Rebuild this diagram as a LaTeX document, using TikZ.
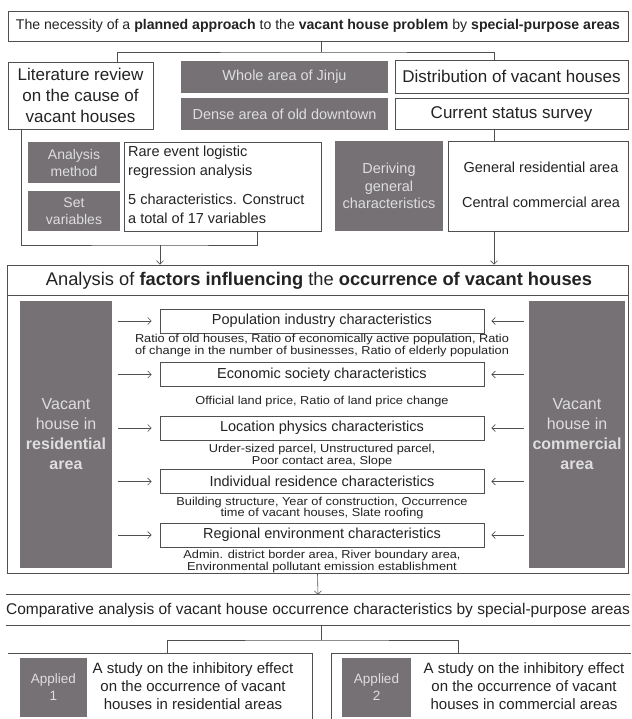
\documentclass[tikz,border=0pt]{standalone}
\usepackage{fontspec}
\setmainfont{Liberation Sans}
\newfontfamily\descfam{Liberation Sans}[FakeStretch=1.11]
\usetikzlibrary{positioning,arrows.meta}
\definecolor{boxgray}{RGB}{118,113,117}
\definecolor{boxtext}{RGB}{222,222,222}
\definecolor{linegray}{RGB}{80,80,80}
\definecolor{txtcolor}{RGB}{35,35,35}
\newcommand{\descfont}{\descfam\fontsize{11.5}{10.5}\selectfont}

\begin{document}
\begin{tikzpicture}[x=1pt,y=-1pt,
box/.style={draw=linegray,line width=0.8pt,fill=white,inner sep=0pt,align=center,text=txtcolor},
gbox/.style={fill=boxgray,inner sep=0pt,align=center,text=boxtext},
lbl/.style={inner sep=0pt,align=center,text=txtcolor},
ln/.style={draw=linegray,line width=0.8pt},
arr/.style={-{Straight Barb[length=3.5pt,width=7pt]},draw=linegray,line width=0.6pt}]
\useasboundingbox (0,0) rectangle (631,719);
\node[box,minimum width=620pt,minimum height=30pt,font=\fontsize{14.1}{16}\selectfont] (nec) at (318,26) {The necessity of a \textbf{planned approach} to the \textbf{vacant house problem} by \textbf{special-purpose areas}};
\node[box,minimum width=145pt,minimum height=67pt,font=\fontsize{17}{21}\selectfont] (lit) at (80.5,95.5) {Literature review\\on the cause of\\vacant houses};
\node[gbox,minimum width=207pt,minimum height=32pt,font=\fontsize{14.5}{17}\selectfont] (whole) at (284.5,77) {Whole area of Jinju};
\node[gbox,minimum width=207pt,minimum height=32pt,font=\fontsize{14.5}{17}\selectfont,below=5pt of whole] (dense) {Dense area of old downtown};
\node[box,minimum width=233pt,minimum height=33pt,font=\fontsize{17}{20}\selectfont] (dist) at (511.5,76.5) {Distribution of vacant houses};
\node[box,minimum width=233pt,minimum height=31pt,font=\fontsize{17}{20}\selectfont,below=5pt of dist] (surv) {Current status survey};
\coordinate (tj) at (321,52);
\coordinate (lx) at (117,0);
\coordinate (rx) at (494,0);
\draw[ln] (nec.south -| tj) -- (tj);
\draw[ln] (lit.north -| lx) |- (tj) -| (dist.north -| rx);
% method and variables
\node[gbox,minimum width=92pt,minimum height=41pt,font=\fontsize{14}{17}\selectfont] (meth) at (74,162.5) {Analysis\\method};
\node[gbox,minimum width=92pt,minimum height=40pt,font=\fontsize{14}{17}\selectfont,below=8pt of meth] (setv) {Set\\variables};
\node[box,minimum width=197pt,minimum height=89pt] (rare) at (222.5,186.5) {};
\node[lbl,anchor=west,align=left,font=\fontsize{14.5}{19}\selectfont] (rare1) at (128,162.5) {Rare event logistic\\regression analysis};
\node[lbl,anchor=west,align=left,font=\fontsize{14.5}{19}\selectfont] (rare2) at (128,209) {5 characteristics. Construct\\a total of 17 variables};
\node[gbox,minimum width=108pt,minimum height=90pt,font=\fontsize{14.5}{17.5}\selectfont] (deriv) at (389,186) {Deriving\\general\\characteristics};
\node[box,minimum width=180pt,minimum height=90pt] (areas) at (538,186) {};
\node[lbl,font=\fontsize{14.5}{17}\selectfont] (gen) at (541,167) {General residential area};
\node[lbl,font=\fontsize{14.5}{17}\selectfont] (cen) at (541,202) {Central commercial area};
\coordinate (lb) at (160,245);
\draw[ln] ([xshift=-59.5pt]lit.south) |- (lb) -| ([xshift=34.5pt]rare.south);
\draw[ln] (surv.south -| rx) -- (areas.north -| rx);
% factor analysis
\node[box,minimum width=621pt,minimum height=308pt] (ana) at (317.5,419) {};
\node[lbl,font=\fontsize{18.3}{20}\selectfont] (anat) at (319,281) {Analysis of \textbf{factors influencing} the \textbf{occurrence of vacant houses}};
\draw[ln] ([yshift=-31pt]ana.north west) -- ([yshift=-31pt]ana.north east);
\draw[arr] (lb) -- (lb |- ana.north);
\draw[arr] (areas.south -| rx) -- (ana.north -| rx);
\node[gbox,minimum width=92pt,minimum height=267pt,font=\fontsize{16}{20}\selectfont] (vres) at (66,434.5) {Vacant\\house in\\\textbf{residential}\\\textbf{area}};
\node[gbox,minimum width=96pt,minimum height=267pt,font=\fontsize{16}{20}\selectfont] (vcom) at (577,434.5) {Vacant\\house in\\\textbf{commercial}\\\textbf{area}};
\foreach \n/\y/\t in {1/321/Population industry,2/374.5/Economic society,3/428/Location physics,4/481.5/Individual residence,5/535/Regional environment}{
  \node[box,minimum width=324pt,minimum height=24pt,font=\fontsize{14.5}{16}\selectfont] (c\n) at (322,\y) {\t\ characteristics};
  \draw[arr] ([xshift=6pt]c\n.west -| vres.east) -- ([xshift=-8pt]c\n.west);
  \draw[arr] ([xshift=-5pt]c\n.east -| vcom.west) -- ([xshift=7pt]c\n.east);
}
\node[lbl,font=\descfam\fontsize{11.5}{9.5}\selectfont] (d1) at (322,345.5) {Ratio of old houses, Ratio of economically active population, Ratio\\of change in the number of businesses, Ratio of elderly population};
\node[lbl,font=\descfont] (d2) at (322,402) {Official land price, Ratio of land price change};
\node[lbl,font=\descfont] (d3) at (322,455.5) {Urder-sized parcel, Unstructured parcel,\\Poor contact area, Slope};
\node[lbl,font=\descfont] (d4) at (322,508) {Building structure, Year of construction, Occurrence\\time of vacant houses, Slate roofing};
\node[lbl,font=\descfont] (d5) at (322,561.5) {Admin. district border area, River boundary area,\\Environmental pollutant emission establishment};
% comparison and application
\node[lbl,minimum width=620pt,minimum height=30pt,font=\fontsize{15.5}{17}\selectfont] (comp) at (318,610) {Comparative analysis of vacant house occurrence characteristics by special-purpose areas};
\draw[ln] (comp.north west) -- (comp.north east) (comp.south west) -- (comp.south east);
\draw[arr] (ana.south) -- (comp.north);
\coordinate (bj) at (321,640);
\coordinate (pl) at (167,653);
\coordinate (pr) at (458,653);
\draw[ln] (comp.south -| bj) -- (bj);
\draw[ln] (pl) |- (bj) -| (pr);
\draw[ln] (8,653) -- (312,653) -- (312,719);
\draw[ln] (331,719) -- (331,653) -- (631,653);
\node[gbox,minimum width=67pt,minimum height=59pt,font=\fontsize{13.5}{17}\selectfont] (ap1) at (53.5,687.5) {Applied\\1};
\node[lbl,font=\fontsize{15}{18}\selectfont] (st1) at (193,686) {A study on the inhibitory effect\\on the occurrence of vacant\\houses in residential areas};
\node[gbox,minimum width=69pt,minimum height=59pt,font=\fontsize{13.5}{17}\selectfont] (ap2) at (376.5,687.5) {Applied\\2};
\node[lbl,font=\fontsize{15}{18}\selectfont] (st2) at (524,686) {A study on the inhibitory effect\\on the occurrence of vacant\\houses in commercial areas};
\end{tikzpicture}
\end{document}
